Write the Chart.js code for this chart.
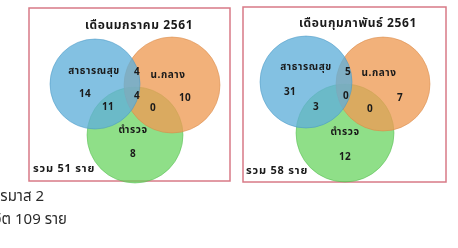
<!DOCTYPE html>
<html><head><meta charset="utf-8">
<script src="https://cdn.jsdelivr.net/npm/chart.js@4"></script>
<style>html,body{margin:0;padding:0;background:#fff;overflow:hidden}</style>
</head><body>
<canvas id="c" width="458" height="248"></canvas>
<script>
// ---- data ----
const panelTitles = ['เดือนมกราคม 2561', 'เดือนกุมภาพันธ์ 2561'];
const setNames = ['สาธารณสุข', 'น.กลาง', 'ตำรวจ'];
const onlyHealth = [14, 31];
const onlyCentral = [10, 7];
const onlyPolice = [8, 12];
const healthCentral = [4, 5];
const allThree = [4, 0];
const centralPolice = [0, 0];
const healthPolice = [11, 3];
const totals = [51, 58];
const footerLines = ['ไตรมาส 2', 'เสียชีวิต 109 ราย'];

// ---- layout (pixels in a 458x248 coordinate system) ----
const panels = [
  {box:[29,8,230,181], circles:[[95,84,45],[172,85,48],[135,135,48]],
   title:[139,27], names:[[94,72],[168,76],[133,131]],
   nums:{a:[85,95],b:[185,99],c:[133,155],ab:[137,73],abc:[137,97],bc:[153,109],ac:[108,108]},
   total:[33,170]},
  {box:[243,7,446,182], circles:[[306,82,46],[383,84,47],[345,133,49]],
   title:[358,25], names:[[306,68],[379,74],[345,133]],
   nums:{a:[290,93],b:[400,99],c:[345,158],ab:[348,73],abc:[346,97],bc:[370,110],ac:[316,108]},
   total:[246,172]}
];
const fills = ['rgba(96,176,218,0.78)','rgba(238,155,85,0.78)','rgba(100,210,90,0.72)'];
const rims = ['rgba(70,150,195,0.5)','rgba(215,135,70,0.5)','rgba(80,185,75,0.5)'];

const datasets = [0,1,2].map(k => ({
  data: panels.map(p => ({x:p.circles[k][0], y:p.circles[k][1], r:p.circles[k][2]})),
  backgroundColor: fills[k], borderColor: rims[k], borderWidth: 1,
  hoverRadius: 0, clip: false
}));

const font = '"Noto Sans Thai","Noto Sans","DejaVu Sans",sans-serif';
const overlay = {
  id: 'overlay',
  beforeDatasetsDraw(chart) {
    const {ctx, scales:{x, y}} = chart;
    ctx.save();
    ctx.strokeStyle = '#d87a86'; ctx.lineWidth = 1.5;
    panels.forEach(p => {
      const [x0,y0,x1,y1] = p.box;
      ctx.strokeRect(x.getPixelForValue(x0), y.getPixelForValue(y0),
        x.getPixelForValue(x1)-x.getPixelForValue(x0), y.getPixelForValue(y1)-y.getPixelForValue(y0));
    });
    ctx.restore();
  },
  afterDatasetsDraw(chart) {
    const {ctx, scales:{x, y}} = chart;
    const px = v => x.getPixelForValue(v), py = v => y.getPixelForValue(v);
    ctx.save();
    ctx.textBaseline = 'middle';
    panels.forEach((p, i) => {
      ctx.fillStyle = '#1a1a1a';
      ctx.textAlign = 'center';
      ctx.font = 'bold 12px ' + font;
      ctx.letterSpacing = '0.6px';
      ctx.fillText(panelTitles[i], px(p.title[0]), py(p.title[1]));
      ctx.font = 'bold 10px ' + font;
      ctx.letterSpacing = '0.6px';
      setNames.forEach((n, k) => ctx.fillText(n, px(p.names[k][0]), py(p.names[k][1])));
      const vals = {a:onlyHealth[i], b:onlyCentral[i], c:onlyPolice[i], ab:healthCentral[i],
        abc:allThree[i], bc:centralPolice[i], ac:healthPolice[i]};
      ctx.font = 'bold 10px ' + font;
      ctx.letterSpacing = '0.3px';
      Object.keys(vals).forEach(k => ctx.fillText(String(vals[k]), px(p.nums[k][0]), py(p.nums[k][1])));
      ctx.textAlign = 'left';
      ctx.font = 'bold 11px ' + font;
      ctx.letterSpacing = '0.8px';
      ctx.fillText('รวม ' + totals[i] + ' ราย', px(p.total[0]), py(p.total[1]));
    });
    ctx.letterSpacing = '0px';
    ctx.fillStyle = '#2a2a2a';
    ctx.textAlign = 'right';
    ctx.font = '15px ' + font;
    ctx.fillText(footerLines[0], px(44), py(198));
    ctx.fillText(footerLines[1], px(67), py(221));
    ctx.restore();
  }
};

new Chart(document.getElementById('c'), {
  type: 'bubble',
  data: { datasets },
  options: {
    responsive: false, animation: false,
    layout: { padding: 0, autoPadding: false },
    events: [],
    plugins: { legend: {display:false}, tooltip: {enabled:false} },
    scales: {
      x: { type:'linear', min:0, max:458, display:false },
      y: { type:'linear', min:0, max:248, reverse:true, display:false }
    }
  },
  plugins: [overlay]
});
</script>
</body></html>
